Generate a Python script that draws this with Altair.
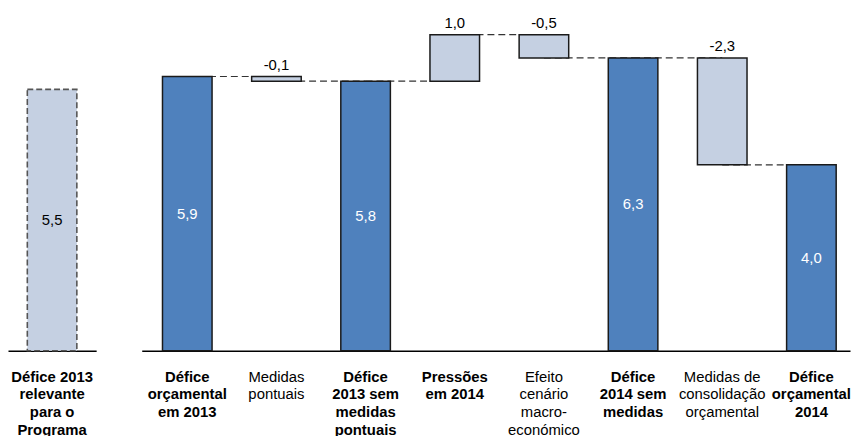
import altair as alt
import pandas as pd

# ---- data ----
left_category = ["Défice 2013|relevante|para o|Programa"]
left_value = [5.5]

categories = [
    "Défice|orçamental|em 2013",
    "Medidas|pontuais",
    "Défice|2013 sem|medidas|pontuais",
    "Pressões|em 2014",
    "Efeito|cenário|macro-|económico",
    "Défice|2014 sem|medidas",
    "Medidas de|consolidação|orçamental",
    "Défice|orçamental|2014",
]
values = [5.9, -0.1, 5.8, 1.0, -0.5, 6.3, -2.3, 4.0]
kinds = ["total", "delta", "total", "delta", "delta", "total", "delta", "total"]
bold_labels = [True, False, True, True, False, True, False, True]

# ---- build waterfall table ----
rows = []
running = 0.0
for c, v, k, b in zip(categories, values, kinds, bold_labels):
    if k == "total":
        start, end = 0.0, v
        running = v
    else:
        start, end = running, running + v
        running = running + v
    rows.append(dict(cat=c, start=start, end=end, kind=k, bold=b,
                     mid=(start + end) / 2, top=max(start, end),
                     label=f"{v:.1f}".replace(".", ",")))
df = pd.DataFrame(rows)

conn_rows = []
for i in range(len(rows) - 1):
    conn_rows.append(dict(seg=i, cat=rows[i]["cat"], level=rows[i]["end"]))
    conn_rows.append(dict(seg=i, cat=rows[i + 1]["cat"], level=rows[i]["end"]))
conn = pd.DataFrame(conn_rows)

left_df = pd.DataFrame(dict(cat=left_category, value=left_value,
                            mid=[v / 2 for v in left_value],
                            label=[f"{v:.1f}".replace(".", ",") for v in left_value]))

FONT = "Liberation Sans"
DARK = "#4F81BD"
LIGHT = "#C5D0E2"
H = 344

def make_axis():
    return alt.Axis(title=None, labels=False, ticks=False, grid=False,
                    domainColor="black", domainWidth=1.5)

def cat_labels(data, xs, weight):
    return alt.Chart(data).mark_text(
        font=FONT, fontSize=15, fontWeight=weight, color="black",
        baseline="top", lineBreak="|", lineHeight=18, align="center"
    ).encode(x=alt.X("cat:N", scale=xs, axis=make_axis()), y=alt.value(H + 19), text="cat:N")

xscale = alt.Scale(domain=categories, paddingInner=0.444, paddingOuter=0.194, align=0.6)
yscale = alt.Scale(domain=[0, 7.33], nice=False, zero=True)

bars = alt.Chart(df).mark_bar(stroke="#1a1a1a", strokeWidth=1.5).encode(
    x=alt.X("cat:N", scale=xscale, axis=make_axis()),
    y=alt.Y("start:Q", scale=yscale, axis=None),
    y2="end:Q",
    color=alt.Color("kind:N", scale=alt.Scale(domain=["total", "delta"], range=[DARK, LIGHT]), legend=None),
)

inner_labels = alt.Chart(df[df["kind"] == "total"]).mark_text(
    font=FONT, fontSize=15, color="white", baseline="middle"
).encode(x=alt.X("cat:N", scale=xscale, axis=make_axis()),
         y=alt.Y("mid:Q", scale=yscale, axis=None), text="label:N")

top_labels = alt.Chart(df[df["kind"] == "delta"]).mark_text(
    font=FONT, fontSize=15, color="black", baseline="middle", dy=-12
).encode(x=alt.X("cat:N", scale=xscale, axis=make_axis()),
         y=alt.Y("top:Q", scale=yscale, axis=None), text="label:N")

connectors = alt.Chart(conn).mark_line(strokeDash=[7, 4], color="#333333", strokeWidth=1.2).encode(
    x=alt.X("cat:N", scale=xscale, axis=make_axis()),
    y=alt.Y("level:Q", scale=yscale, axis=None),
    detail="seg:N",
)

bold_txt = cat_labels(df[df["bold"]], xscale, "bold")
norm_txt = cat_labels(df[~df["bold"]], xscale, "normal")

right = alt.layer(connectors, bars, inner_labels, top_labels, bold_txt, norm_txt).properties(width=715, height=H)

lscale_x = alt.Scale(domain=left_category, paddingInner=0, paddingOuter=0.39)
lscale_y = alt.Scale(domain=[0, 7.17], nice=False, zero=True)
left_bar = alt.Chart(left_df).mark_bar(color=LIGHT, stroke="#555555", strokeWidth=1.6, strokeDash=[6, 3]).encode(
    x=alt.X("cat:N", scale=lscale_x, axis=make_axis()),
    y=alt.Y("value:Q", scale=lscale_y, axis=None),
)
left_text = alt.Chart(left_df).mark_text(font=FONT, fontSize=15, color="black", baseline="middle").encode(
    x=alt.X("cat:N", scale=lscale_x, axis=make_axis()),
    y=alt.Y("mid:Q", scale=lscale_y, axis=None), text="label:N"
)
left_cat = cat_labels(left_df, lscale_x, "bold")
left = alt.layer(left_bar, left_text, left_cat).properties(width=89, height=H)

chart = alt.hconcat(left, right, spacing=46).properties(
    padding=0, background="white"
).configure_view(strokeWidth=0)

chart.save("out.html", embed_options={"renderer": "svg", "actions": False})
